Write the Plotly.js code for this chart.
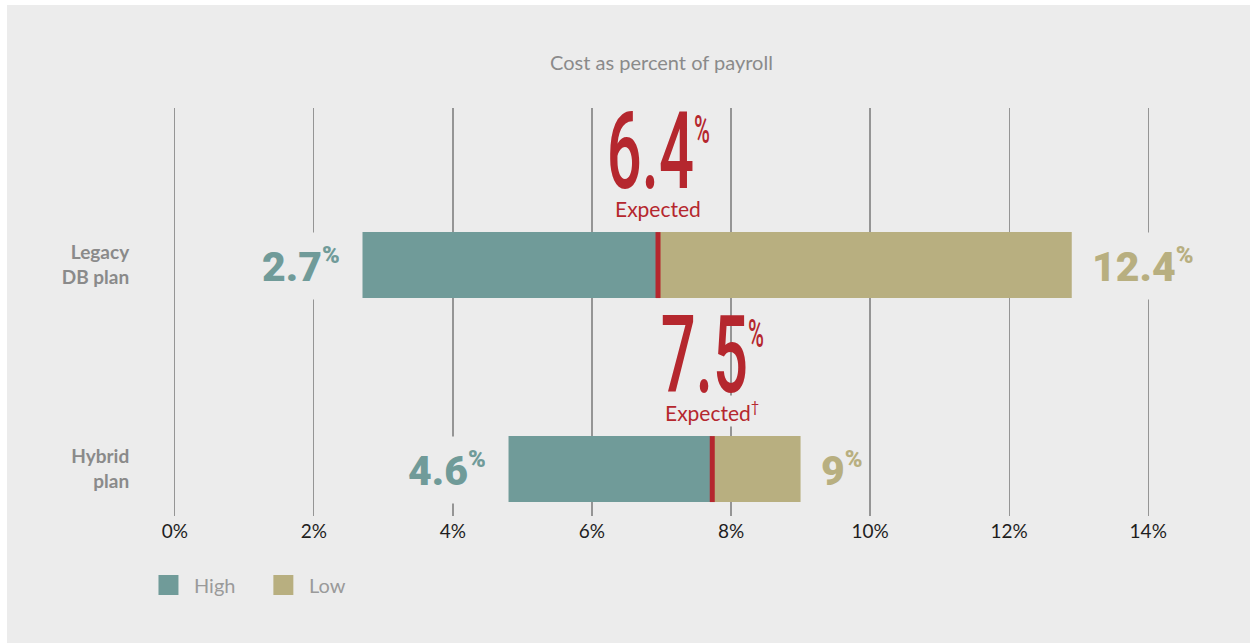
<!DOCTYPE html>
<html>
<head>
<meta charset="utf-8">
<script src="https://cdn.plot.ly/plotly-3.0.1.min.js"></script>
<style>
  html, body { margin: 0; padding: 0; background: #ffffff; width: 1250px; height: 643px; overflow: hidden; }
  #chart { position: absolute; left: 7px; top: 5px; width: 1243px; height: 638px; }
</style>
</head>
<body>
<div id="chart"></div>
<script>
// ---- data ----
const categories = ['Legacy<br>DB plan', 'Hybrid<br>plan'];
const seriesNames = ['High', 'Low'];
const barStart = [2.7, 4.8];        // left end of teal bar (as drawn)
const expectedPos = [6.95, 7.73];   // red expected marker (as drawn)
const barEnd = [12.9, 9.0];         // right end of tan bar (as drawn)
const startLabels = ['2.7', '4.6'];
const endLabels = ['12.4', '9'];
const expectedLabels = ['6.4', '7.5'];
const expectedNotes = ['Expected', 'Expected<sup>\u2020</sup>'];
const xTickVals = [0, 2, 4, 6, 8, 10, 12, 14];
const xTickText = ['0%', '2%', '4%', '6%', '8%', '10%', '12%', '14%'];
const chartTitle = 'Cost as percent of payroll';

// ---- style ----
const BG = '#ececec';
const TEAL = '#709b99';
const TAN = '#b8af80';
const RED = '#b5272e';
const GRID = '#959595';
const BAR_W = 0.3235;

const W = 1243, H = 638;
const M = { l: 132.5, r: 66.5, t: 103, b: 127 };
const PW = W - M.l - M.r, PH = H - M.t - M.b;
const px = x => (x - M.l) / PW;
const py = y => (H - M.b - y) / PH;

const traces = [
  {
    type: 'bar', orientation: 'h', name: seriesNames[0],
    y: categories, base: barStart,
    x: barStart.map((s, i) => expectedPos[i] - s),
    width: BAR_W, marker: { color: TEAL, line: { width: 0 } },
    hoverinfo: 'skip', showlegend: false
  },
  {
    type: 'bar', orientation: 'h', name: seriesNames[1],
    y: categories, base: expectedPos,
    x: barEnd.map((e, i) => e - expectedPos[i]),
    width: BAR_W, marker: { color: TAN, line: { width: 0 } },
    hoverinfo: 'skip', showlegend: false
  },
  {
    type: 'scatter', mode: 'markers', name: 'Expected',
    y: categories, x: expectedPos,
    marker: { symbol: 'line-ns', size: 47.1, color: RED, line: { color: RED, width: 5 } },
    hoverinfo: 'skip', showlegend: false
  }
];

const annotations = [];
const bigIdx = [];
categories.forEach((c, i) => {
  annotations.push({
    x: barStart[i], y: c, xref: 'x', yref: 'y', xanchor: 'right', yanchor: 'middle',
    xshift: -22, yshift: -1, showarrow: false, height: 66, bgcolor: BG, borderpad: 0,
    text: startLabels[i] + '<sup><span style="font-size:24px">%</span></sup>',
    font: { family: 'Roboto', size: 41, color: TEAL, weight: 900 }
  });
  annotations.push({
    x: barEnd[i], y: c, xref: 'x', yref: 'y', xanchor: 'left', yanchor: 'middle',
    xshift: 19, yshift: -1, showarrow: false, height: 66, bgcolor: BG, borderpad: 0,
    text: endLabels[i] + '<sup><span style="font-size:24px">%</span></sup>',
    font: { family: 'Roboto', size: 41, color: TAN, weight: 900 }
  });
  bigIdx.push(annotations.length);
  annotations.push({
    x: expectedPos[i], y: c, xref: 'x', yref: 'y', xanchor: 'center', yanchor: 'bottom',
    yshift: 50, showarrow: false, borderpad: 0,
    text: expectedLabels[i] + '<sup><span style="font-size:38px">%</span></sup>',
    font: { family: 'Roboto', size: 108, color: RED, weight: 500 }
  });
  annotations.push({
    x: expectedPos[i], y: c, xref: 'x', yref: 'y', xanchor: 'center', yanchor: 'bottom',
    yshift: 42, showarrow: false, bgcolor: i === 1 ? BG : 'rgba(0,0,0,0)', borderpad: 1,
    text: expectedNotes[i],
    font: { family: 'Lato', size: 21, color: RED }
  });
});

// legend (custom)
const legendColors = [TEAL, TAN];
const legendSquareX = [151, 266];
const shapes = [];
seriesNames.forEach((n, i) => {
  shapes.push({
    type: 'rect', xref: 'paper', yref: 'paper', layer: 'above',
    x0: px(legendSquareX[i]), x1: px(legendSquareX[i] + 20),
    y0: py(570), y1: py(590),
    fillcolor: legendColors[i], line: { width: 0 }
  });
  annotations.push({
    xref: 'paper', yref: 'paper', x: px(legendSquareX[i] + 34), y: py(580),
    xanchor: 'left', yanchor: 'middle', showarrow: false, text: n,
    font: { family: 'Lato', size: 20, color: '#9a9a9a' }
  });
});

const layout = {
  width: W, height: H,
  margin: M,
  paper_bgcolor: BG, plot_bgcolor: BG,
  barmode: 'overlay',
  showlegend: false,
  title: {
    text: chartTitle, x: 0.5, xref: 'paper', xanchor: 'center',
    y: 1 - 58 / H, yref: 'container', yanchor: 'middle',
    font: { family: 'Lato', size: 20, color: '#8a8a8a' }
  },
  xaxis: {
    range: [-0.5, 14.5], tickmode: 'array', tickvals: xTickVals, ticktext: xTickText,
    showgrid: true, gridcolor: GRID, gridwidth: 1.2, zeroline: false, showline: false,
    ticks: '', ticklabelstandoff: 2,
    tickfont: { family: 'Lato', size: 19, color: '#1e1e1e' }, fixedrange: true
  },
  yaxis: {
    type: 'category', range: [1.23, -0.77], showgrid: false, zeroline: false, showline: false,
    ticks: 'outside', ticklen: 6, tickcolor: 'rgba(0,0,0,0)',
    tickfont: { family: 'Lato', size: 19, color: '#8a8a8a', weight: 'bold' }, fixedrange: true
  },
  annotations: annotations,
  shapes: shapes
};

function condense() {
  const S = 0.57;
  document.querySelectorAll('#chart .annotation').forEach(g => {
    const idx = +g.getAttribute('data-index');
    if (bigIdx.includes(idx)) {
      const t = g.querySelector('text.annotation-text');
      if (!t) return;
      t.removeAttribute('transform');
      const bb = t.getBBox();
      const cx = bb.x + bb.width / 2;
      t.setAttribute('transform', 'translate(' + cx + ',0) scale(' + S + ',1) translate(' + (-cx) + ',0)');
    }
  });
}

Plotly.newPlot('chart', traces, layout, { displayModeBar: false, staticPlot: true }).then(gd => {
  condense();
  gd.on('plotly_afterplot', condense);
});
</script>
</body>
</html>
